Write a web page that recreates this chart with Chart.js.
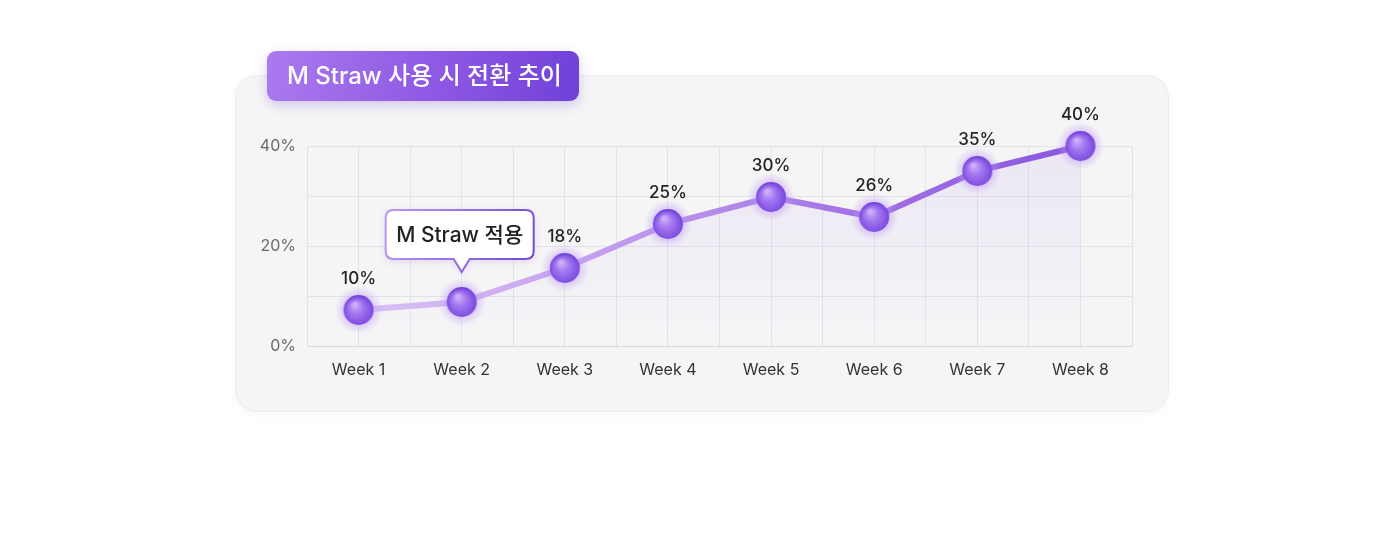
<!DOCTYPE html>
<html lang="ko">
<head>
<meta charset="utf-8">
<title>M Straw 사용 시 전환 추이</title>
<script src="https://cdn.jsdelivr.net/npm/chart.js@4.4.1/dist/chart.umd.min.js"></script>
<style>
  html, body { margin: 0; padding: 0; background: #ffffff; }
  body { width: 1400px; height: 560px; position: relative; overflow: hidden;
         font-family: Inter, "Noto Sans CJK KR", sans-serif; }
  .card { position: absolute; left: 235px; top: 75px; width: 932px; height: 335px;
          background: #f5f5f6; border-radius: 22px; border: 1px solid #ededef;
          box-shadow: 0 2px 10px rgba(0,0,0,0.035); }
  .badge { position: absolute; left: 267px; top: 51px; width: 312px; height: 50px;
           border-radius: 9px; box-sizing: border-box; padding-left: 20px;
           background: linear-gradient(100deg, #ab7aee 0%, #8d58e3 55%, #7040d8 100%);
           box-shadow: 0 4px 12px rgba(110,60,210,0.25);
           color: #fff; font: 500 24px Inter, "Noto Sans CJK KR", sans-serif;
           line-height: 50px; white-space: nowrap; z-index: 2; }
  #chart { position: absolute; left: 0; top: 0; z-index: 1; }
</style>
</head>
<body>
<div class="card"></div>
<div class="badge">M Straw 사용 시 전환 추이</div>
<canvas id="chart" width="1400" height="560"></canvas>
<script>
// Categories and values
const weeks = ["Week 1", "Week 2", "Week 3", "Week 4", "Week 5", "Week 6", "Week 7", "Week 8"];
const rates = [7.2, 8.8, 15.6, 24.4, 29.8, 25.8, 35, 40];
const rateLabels = ["10%", null, "18%", "25%", "30%", "26%", "35%", "40%"];
const yTicks = [0, 20, 40];
const calloutText = "M Straw 적용";
const calloutWeek = 2;

const FONT = 'Inter, "Noto Sans CJK KR", sans-serif';

// Pre-rendered glossy sphere used as the point style
function makeSphere() {
  const size = 52, c = size / 2;
  const cv = document.createElement('canvas');
  cv.width = size; cv.height = size;
  const g = cv.getContext('2d');
  const halo = g.createRadialGradient(c, c, 13, c, c, 24);
  halo.addColorStop(0, 'rgba(180,140,245,0.5)');
  halo.addColorStop(0.5, 'rgba(190,155,245,0.25)');
  halo.addColorStop(1, 'rgba(190,155,245,0)');
  g.fillStyle = halo;
  g.beginPath(); g.arc(c, c, 24, 0, Math.PI * 2); g.fill();
  const body = g.createRadialGradient(c - 4, c - 6, 1, c, c + 2, 16);
  body.addColorStop(0, '#cfb2fb');
  body.addColorStop(0.4, '#a477ef');
  body.addColorStop(0.85, '#8050e2');
  body.addColorStop(1, '#7444d8');
  g.fillStyle = body;
  g.beginPath(); g.arc(c, c, 15, 0, Math.PI * 2); g.fill();
  return cv;
}
const sphere = makeSphere();

function lineGradient(ctx) {
  const area = ctx.chart.chartArea;
  if (!area) return '#a57ae8';
  const gr = ctx.chart.ctx.createLinearGradient(area.left, 0, area.right, 0);
  gr.addColorStop(0, '#ddc9f6');
  gr.addColorStop(0.3, '#c9a6f0');
  gr.addColorStop(0.65, '#a474e7');
  gr.addColorStop(1, '#8550dd');
  return gr;
}

function fillGradient(ctx) {
  const area = ctx.chart.chartArea;
  if (!area) return 'rgba(150,100,230,0.05)';
  const gr = ctx.chart.ctx.createLinearGradient(0, area.top, 0, area.bottom);
  gr.addColorStop(0, 'rgba(160,115,235,0.10)');
  gr.addColorStop(0.6, 'rgba(160,115,235,0.04)');
  gr.addColorStop(1, 'rgba(160,115,235,0)');
  return gr;
}

// Value labels above points and the callout box
const annotate = {
  id: 'annotate',
  afterDatasetsDraw(chart) {
    const { ctx, scales: { x, y } } = chart;
    ctx.save();
    ctx.font = '500 17px ' + FONT;
    ctx.fillStyle = '#242424';
    ctx.textAlign = 'center';
    ctx.textBaseline = 'middle';
    rateLabels.forEach((t, i) => {
      if (!t) return;
      ctx.fillText(t, x.getPixelForValue(i + 1), y.getPixelForValue(rates[i]) - 31);
    });

    const px = x.getPixelForValue(calloutWeek);
    const py = y.getPixelForValue(rates[calloutWeek - 1]);
    const w = 148, h = 49, r = 8;
    const tipY = py - 30, bottom = tipY - 13, top = bottom - h;
    const left = px - 76, right = left + w;
    ctx.beginPath();
    ctx.moveTo(left + r, top);
    ctx.lineTo(right - r, top);
    ctx.quadraticCurveTo(right, top, right, top + r);
    ctx.lineTo(right, bottom - r);
    ctx.quadraticCurveTo(right, bottom, right - r, bottom);
    ctx.lineTo(px + 8, bottom);
    ctx.lineTo(px, tipY);
    ctx.lineTo(px - 8, bottom);
    ctx.lineTo(left + r, bottom);
    ctx.quadraticCurveTo(left, bottom, left, bottom - r);
    ctx.lineTo(left, top + r);
    ctx.quadraticCurveTo(left, top, left + r, top);
    ctx.closePath();
    ctx.shadowColor = 'rgba(120,70,210,0.18)';
    ctx.shadowBlur = 8;
    ctx.shadowOffsetY = 2;
    ctx.fillStyle = '#ffffff';
    ctx.fill();
    ctx.shadowColor = 'transparent';
    const bg = ctx.createLinearGradient(left, top, right, bottom);
    bg.addColorStop(0, '#bd98f0');
    bg.addColorStop(1, '#7548d6');
    ctx.strokeStyle = bg;
    ctx.lineWidth = 2;
    ctx.stroke();
    ctx.fillStyle = '#222';
    ctx.font = '500 21px ' + FONT;
    ctx.fillText(calloutText, left + w / 2, top + h / 2 + 1);
    ctx.restore();
  }
};

new Chart(document.getElementById('chart'), {
  type: 'line',
  data: {
    datasets: [{
      data: weeks.map((w, i) => ({ x: i + 1, y: rates[i] })),
      borderColor: lineGradient,
      backgroundColor: fillGradient,
      borderWidth: 6,
      fill: 'start',
      tension: 0,
      pointStyle: sphere,
      pointRadius: 15,
      clip: false
    }]
  },
  options: {
    responsive: false,
    animation: false,
    events: [],
    layout: { padding: { left: 250, right: 268, top: 146, bottom: 154 } },
    plugins: { legend: { display: false }, tooltip: { enabled: false } },
    scales: {
      x: {
        type: 'linear',
        min: 0.5,
        max: 8.5,
        border: { color: '#d9d8de', width: 1 },
        grid: { color: '#e4e2e9', drawTicks: false },
        afterFit: s => { s.height = 60; },
        ticks: {
          stepSize: 0.5,
          autoSkip: false,
          maxRotation: 0,
          padding: 15,
          color: '#333',
          font: { family: FONT, size: 16 },
          callback: v => Number.isInteger(v) ? weeks[v - 1] : ''
        }
      },
      y: {
        min: 0,
        max: 40,
        border: { color: '#e4e2e9' },
        grid: { color: '#e4e2e9', drawTicks: false },
        afterFit: s => { s.width = 57; },
        ticks: {
          stepSize: 10,
          padding: 11,
          color: '#6a6a6a',
          font: { family: FONT, size: 16 },
          callback: v => yTicks.includes(v) ? v + '%' : ''
        }
      }
    }
  },
  plugins: [annotate]
});
</script>
</body>
</html>
